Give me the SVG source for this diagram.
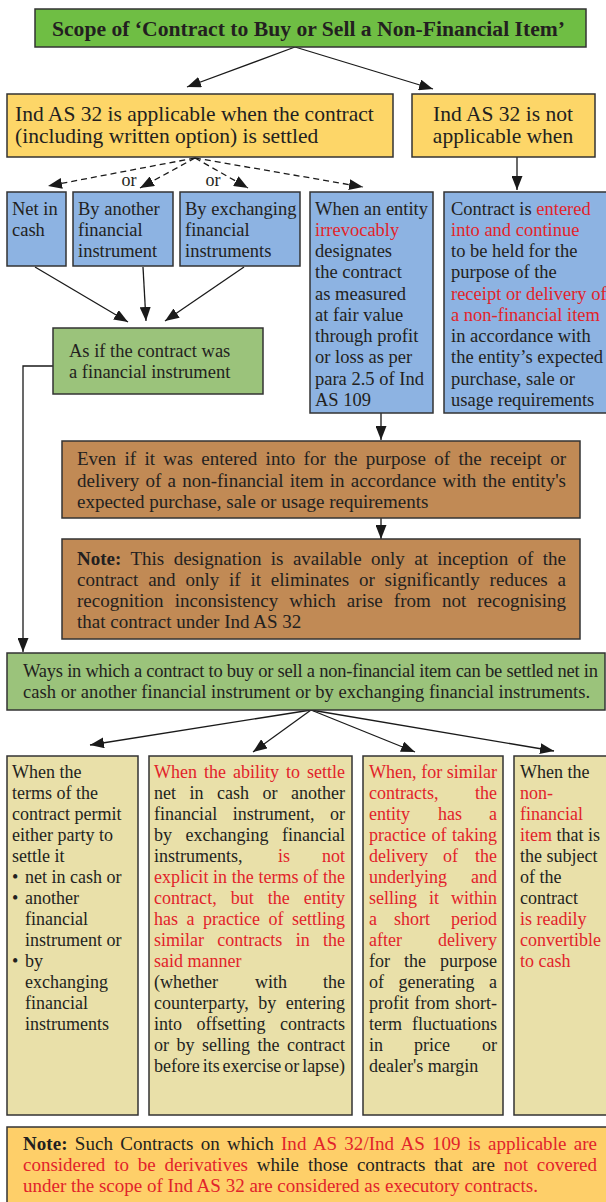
<svg xmlns="http://www.w3.org/2000/svg" width="606" height="1202" viewBox="0 0 606 1202">
<style>
text{font-family:"Liberation Serif","Times New Roman",serif;fill:#231f20}
.r{fill:#e2232a}
.b{font-weight:bold}
.bx{stroke:#333;stroke-width:1.5}
.cn line,.cn polyline{stroke:#1a1a1a;stroke-width:1.3;fill:none}
.dash{stroke-dasharray:6,4}
.f18{font-size:18px}
.f185{font-size:18.5px}
.f17{font-size:19px}
.f19{font-size:19px}
</style>
<defs>
<marker id="ah" viewBox="0 0 14 11" refX="14" refY="5.5" markerWidth="14" markerHeight="11" orient="auto" markerUnits="userSpaceOnUse"><path d="M0,0 L14,5.5 L0,11 z" fill="#1a1a1a"/></marker>
</defs>
<rect width="606" height="1202" fill="#fff"/>

<g class="cn">
<line x1="295" y1="47" x2="187" y2="87" marker-end="url(#ah)"/>
<line x1="295" y1="47" x2="433" y2="89" marker-end="url(#ah)"/>
<line class="dash" x1="195" y1="158" x2="48" y2="186" marker-end="url(#ah)"/>
<line class="dash" x1="195" y1="158" x2="140" y2="188" marker-end="url(#ah)"/>
<line class="dash" x1="195" y1="158" x2="248" y2="188" marker-end="url(#ah)"/>
<line class="dash" x1="195" y1="158" x2="363" y2="187" marker-end="url(#ah)"/>
<line x1="517" y1="157" x2="517" y2="190" marker-end="url(#ah)"/>
<line x1="35" y1="267" x2="128" y2="322" marker-end="url(#ah)"/>
<line x1="143" y1="267" x2="146" y2="321" marker-end="url(#ah)"/>
<line x1="244" y1="267" x2="165" y2="321" marker-end="url(#ah)"/>
<polyline points="53,366 23,366 23,652" marker-end="url(#ah)"/>
<line x1="381" y1="413" x2="381" y2="440" marker-end="url(#ah)"/>
<line x1="381" y1="518" x2="381" y2="539" marker-end="url(#ah)"/>
<line x1="311" y1="710" x2="90" y2="745" marker-end="url(#ah)"/>
<line x1="311" y1="710" x2="253" y2="752" marker-end="url(#ah)"/>
<line x1="311" y1="710" x2="415" y2="752" marker-end="url(#ah)"/>
<line x1="311" y1="710" x2="554" y2="751" marker-end="url(#ah)"/>
</g>

<g id="title">
<rect class="bx" x="35" y="9" width="551" height="38" fill="#6fbe44"/>
<text class="b" x="52" y="36" font-size="20" textLength="513" lengthAdjust="spacingAndGlyphs">Scope of ‘Contract to Buy or Sell a Non-Financial Item’</text>
</g>

<g id="applicable">
<rect class="bx" x="7" y="94" width="386" height="63" fill="#fdd668"/>
<text x="15" y="121" font-size="21.5">Ind AS 32 is applicable when the contract</text>
<text x="15" y="143" font-size="21.5">(including written option) is settled</text>
</g>

<g id="notapplicable">
<rect class="bx" x="412" y="94" width="183" height="63" fill="#fdd668"/>
<text x="503" y="121" font-size="21.5" text-anchor="middle">Ind AS 32 is not</text>
<text x="503" y="143" font-size="21.5" text-anchor="middle">applicable when</text>
</g>

<g id="or-labels">
<text x="129" y="186" font-size="18" text-anchor="middle">or</text>
<text x="213" y="186" font-size="18" text-anchor="middle">or</text>
</g>

<g id="netcash">
<rect class="bx" x="7" y="192" width="59" height="74" fill="#8db3e2"/>
<text class="f185" x="12" y="215">Net in</text>
<text class="f185" x="12" y="236">cash</text>
</g>

<g id="another">
<rect class="bx" x="73" y="192" width="100" height="74" fill="#8db3e2"/>
<text class="f185" x="78" y="215">By another</text>
<text class="f185" x="78" y="236">financial</text>
<text class="f185" x="78" y="257">instrument</text>
</g>

<g id="exchanging">
<rect class="bx" x="180" y="192" width="120" height="74" fill="#8db3e2"/>
<text class="f185" x="185" y="215">By exchanging</text>
<text class="f185" x="185" y="236">financial</text>
<text class="f185" x="185" y="257">instruments</text>
</g>

<g id="irrevocably">
<rect class="bx" x="310" y="192" width="123" height="221" fill="#8db3e2"/>
<text class="f185" x="315" y="214.5">When an entity</text>
<text class="f185 r" x="315" y="235.75">irrevocably</text>
<text class="f185" x="315" y="257">designates</text>
<text class="f185" x="315" y="278.25">the contract</text>
<text class="f185" x="315" y="299.5">as measured</text>
<text class="f185" x="315" y="320.75">at fair value</text>
<text class="f185" x="315" y="342">through profit</text>
<text class="f185" x="315" y="363.25">or loss as per</text>
<text class="f185" x="315" y="384.5">para 2.5 of Ind</text>
<text class="f185" x="315" y="405.75">AS 109</text>
</g>

<g id="entered">
<rect class="bx" x="444" y="192" width="170" height="221" fill="#8db3e2"/>
<text class="f185" x="451" y="214.5">Contract is <tspan class="r">entered</tspan></text>
<text class="f185 r" x="451" y="235.75">into and continue</text>
<text class="f185" x="451" y="257">to be held for the</text>
<text class="f185" x="451" y="278.25">purpose of the</text>
<text class="f185 r" x="451" y="299.5">receipt or delivery of</text>
<text class="f185 r" x="451" y="320.75">a non-financial item</text>
<text class="f185" x="451" y="342">in accordance with</text>
<text class="f185" x="451" y="363.25">the entity’s expected</text>
<text class="f185" x="451" y="384.5">purchase, sale or</text>
<text class="f185" x="451" y="405.75">usage requirements</text>
</g>

<g id="asif">
<rect class="bx" x="53" y="328" width="210" height="66" fill="#9bc37b"/>
<text class="f185" x="69" y="357">As if the contract was</text>
<text class="f185" x="69" y="378">a financial instrument</text>
</g>

<g id="evenif">
<rect class="bx" x="62" y="441" width="518" height="77" fill="#c18a55"/>
<text class="f17" x="77" y="465" word-spacing="3.6" textLength="489" lengthAdjust="spacing">Even if it was entered into for the purpose of the receipt or</text>
<text class="f17" x="77" y="486.5" word-spacing="1.4" textLength="489" lengthAdjust="spacing">delivery of a non-financial item in accordance with the entity's</text>
<text class="f17" x="77" y="508">expected purchase, sale or usage requirements</text>
</g>

<g id="designation-note">
<rect class="bx" x="62" y="539" width="518" height="100" fill="#c18a55"/>
<text class="f17" x="77" y="565" word-spacing="4.6" textLength="489" lengthAdjust="spacing"><tspan class="b">Note:</tspan> This designation is available only at inception of the</text>
<text class="f17" x="77" y="586" word-spacing="5" textLength="489" lengthAdjust="spacing">contract and only if it eliminates or significantly reduces a</text>
<text class="f17" x="77" y="607" word-spacing="6.3" textLength="489" lengthAdjust="spacing">recognition inconsistency which arise from not recognising</text>
<text class="f17" x="77" y="628">that contract under Ind AS 32</text>
</g>

<g id="ways">
<rect class="bx" x="7" y="653" width="598" height="57" fill="#9bc37b"/>
<text class="f185" x="23" y="677" textLength="575" lengthAdjust="spacing">Ways in which a contract to buy or sell a non-financial item can be settled net in</text>
<text class="f185" x="23" y="698" textLength="567" lengthAdjust="spacing">cash or another financial instrument or by exchanging financial instruments.</text>
</g>

<g id="terms">
<rect class="bx" x="7" y="756" width="131" height="359" fill="#e9e0a9"/>
<text class="f18" x="12" y="778">When the</text>
<text class="f18" x="12" y="799">terms of the</text>
<text class="f18" x="12" y="820">contract permit</text>
<text class="f18" x="12" y="841">either party to</text>
<text class="f18" x="12" y="862">settle it</text>
<text class="f18" x="12" y="883">•</text><text class="f18" x="25" y="883">net in cash or</text>
<text class="f18" x="12" y="904">•</text><text class="f18" x="25" y="904">another</text>
<text class="f18" x="25" y="925">financial</text>
<text class="f18" x="25" y="946">instrument or</text>
<text class="f18" x="12" y="967">•</text><text class="f18" x="25" y="967">by</text>
<text class="f18" x="25" y="988">exchanging</text>
<text class="f18" x="25" y="1009">financial</text>
<text class="f18" x="25" y="1030">instruments</text>
</g>

<g id="ability">
<rect class="bx" x="149" y="756" width="203" height="359" fill="#e9e0a9"/>
<text class="f18 r" x="154" y="778" word-spacing="2.5" textLength="191" lengthAdjust="spacing">When the ability to settle</text>
<text class="f18" x="154" y="799" word-spacing="9" textLength="191" lengthAdjust="spacing">net in cash or another</text>
<text class="f18" x="154" y="820" word-spacing="11" textLength="191" lengthAdjust="spacing">financial instrument, or</text>
<text class="f18" x="154" y="841" word-spacing="9" textLength="191" lengthAdjust="spacing">by exchanging financial</text>
<text class="f18" x="154" y="862">instruments,</text><text class="f18 r" x="278" y="862">is</text><text class="f18 r" x="345" y="862" text-anchor="end">not</text>
<text class="f18 r" x="154" y="883" textLength="191" lengthAdjust="spacing">explicit in the terms of the</text>
<text class="f18 r" x="154" y="904" word-spacing="9.5" textLength="191" lengthAdjust="spacing">contract, but the entity</text>
<text class="f18 r" x="154" y="925" word-spacing="4" textLength="191" lengthAdjust="spacing">has a practice of settling</text>
<text class="f18 r" x="154" y="946" word-spacing="8.8" textLength="191" lengthAdjust="spacing">similar contracts in the</text>
<text class="f18 r" x="154" y="967">said manner</text>
<text class="f18" x="154" y="988">(whether</text><text class="f18" x="255" y="988">with</text><text class="f18" x="345" y="988" text-anchor="end">the</text>
<text class="f18" x="154" y="1009" word-spacing="4.8" textLength="191" lengthAdjust="spacing">counterparty, by entering</text>
<text class="f18" x="154" y="1030" word-spacing="10" textLength="191" lengthAdjust="spacing">into offsetting contracts</text>
<text class="f18" x="154" y="1051" word-spacing="3" textLength="191" lengthAdjust="spacing">or by selling the contract</text>
<text class="f18" x="154" y="1072" word-spacing="-1.5" textLength="191" lengthAdjust="spacing">before its exercise or lapse)</text>
</g>

<g id="similar">
<rect class="bx" x="363" y="756" width="140" height="359" fill="#e9e0a9"/>
<text class="f18 r" x="369" y="778" textLength="128" lengthAdjust="spacing">When, for similar</text>
<text class="f18 r" x="369" y="799">contracts,</text><text class="f18 r" x="497" y="799" text-anchor="end">the</text>
<text class="f18 r" x="369" y="820">entity</text><text class="f18 r" x="438" y="820">has</text><text class="f18 r" x="497" y="820" text-anchor="end">a</text>
<text class="f18 r" x="369" y="841" word-spacing="1" textLength="128" lengthAdjust="spacing">practice of taking</text>
<text class="f18 r" x="369" y="862">delivery</text><text class="f18 r" x="443" y="862">of</text><text class="f18 r" x="497" y="862" text-anchor="end">the</text>
<text class="f18 r" x="369" y="883">underlying</text><text class="f18 r" x="497" y="883" text-anchor="end">and</text>
<text class="f18 r" x="369" y="904" word-spacing="7.5" textLength="128" lengthAdjust="spacing">selling it within</text>
<text class="f18 r" x="369" y="925">a</text><text class="f18 r" x="394" y="925">short</text><text class="f18 r" x="497" y="925" text-anchor="end">period</text>
<text class="f18 r" x="369" y="946">after</text><text class="f18 r" x="497" y="946" text-anchor="end">delivery</text>
<text class="f18" x="369" y="967" word-spacing="9.5" textLength="128" lengthAdjust="spacing">for the purpose</text>
<text class="f18" x="369" y="988" word-spacing="10" textLength="128" lengthAdjust="spacing">of generating a</text>
<text class="f18" x="369" y="1009" word-spacing="1" textLength="128" lengthAdjust="spacing">profit from short-</text>
<text class="f18" x="369" y="1030" word-spacing="5.5" textLength="128" lengthAdjust="spacing">term fluctuations</text>
<text class="f18" x="369" y="1051">in</text><text class="f18" x="414" y="1051">price</text><text class="f18" x="497" y="1051" text-anchor="end">or</text>
<text class="f18" x="369" y="1072">dealer's margin</text>
</g>

<g id="convertible">
<rect class="bx" x="514" y="756" width="100" height="359" fill="#e9e0a9"/>
<text class="f18" x="520" y="778">When the</text>
<text class="f18 r" x="520" y="799">non-</text>
<text class="f18 r" x="520" y="820">financial</text>
<text class="f18" x="520" y="841"><tspan class="r">item</tspan> that is</text>
<text class="f18" x="520" y="862">the subject</text>
<text class="f18" x="520" y="883">of the</text>
<text class="f18" x="520" y="904">contract</text>
<text class="f18 r" x="520" y="925">is readily</text>
<text class="f18 r" x="520" y="946">convertible</text>
<text class="f18 r" x="520" y="967">to cash</text>
</g>

<g id="derivatives-note">
<rect class="bx" x="7" y="1127" width="610" height="80" fill="#fecf69"/>
<text class="f19" x="23" y="1150" word-spacing="2.5" textLength="574" lengthAdjust="spacing"><tspan class="b">Note:</tspan> Such Contracts on which <tspan class="r">Ind AS 32/Ind AS 109 is applicable are</tspan></text>
<text class="f19" x="23" y="1171" word-spacing="4.1" textLength="574" lengthAdjust="spacing"><tspan class="r">considered to be derivatives</tspan> while those contracts that are <tspan class="r">not covered</tspan></text>
<text class="f19 r" x="23" y="1192">under the scope of Ind AS 32 are considered as executory contracts.</text>
</g>
</svg>
